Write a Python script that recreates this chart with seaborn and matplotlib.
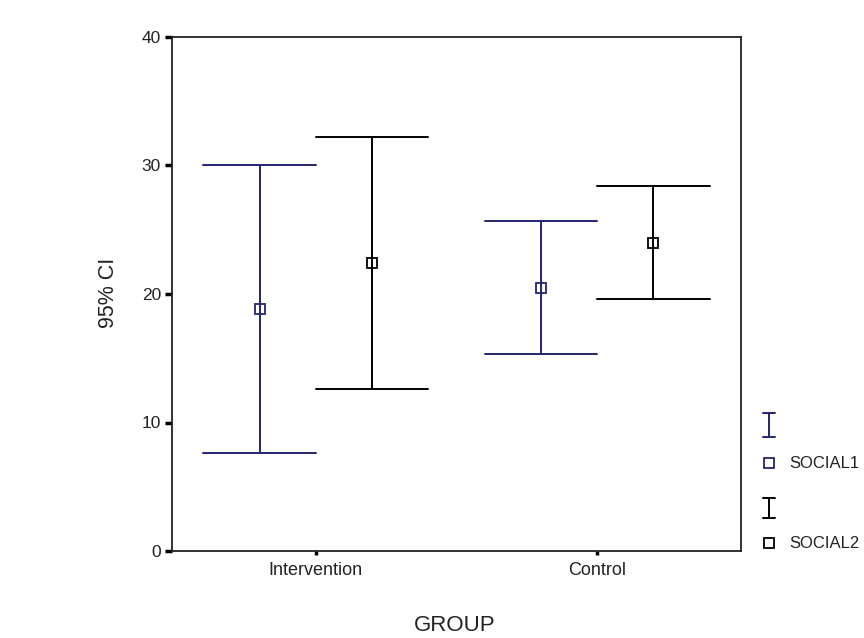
import pandas as pd
import seaborn as sns
import matplotlib.pyplot as plt
from matplotlib.lines import Line2D

# values (95% CI per group)
groups = ["Intervention", "Control"]
series = ["SOCIAL1", "SOCIAL2"]
social1_mean = [18.8, 20.5]
social1_low = [7.6, 15.3]
social1_high = [30.0, 25.7]
social2_mean = [22.4, 24.0]
social2_low = [12.6, 19.6]
social2_high = [32.2, 28.4]
y_ticks = [0, 10, 20, 30, 40]

colors = {"SOCIAL1": "#25256e", "SOCIAL2": "black"}

# long table: low / mean / high per cell -> median gives the mean, full range gives the CI
rows = []
for s, lo, mid, hi in [("SOCIAL1", social1_low, social1_mean, social1_high),
                       ("SOCIAL2", social2_low, social2_mean, social2_high)]:
    for g, a, b, c in zip(groups, lo, mid, hi):
        for v in (a, b, c):
            rows.append({"GROUP": g, "series": s, "value": v})
df = pd.DataFrame(rows)

sns.set_theme(style="white")
plt.rcParams['font.family'] = ['Liberation Sans', 'DejaVu Sans']

fig = plt.figure(figsize=(8.64, 6.38), dpi=100)
ax = fig.add_axes([172 / 864, 1 - 551 / 638, (741 - 172) / 864, (551 - 37) / 638])

sns.pointplot(data=df, x="GROUP", y="value", hue="series", order=groups,
              hue_order=series, palette=colors, estimator="median",
              errorbar=("pi", 100), dodge=0.4, capsize=0.4,
              markers="s", linestyle="none", markersize=7.5,
              markerfacecolor="white", markeredgewidth=1.3,
              err_kws={"linewidth": 1.4}, legend=False, ax=ax)

ax.set_xlim(-0.512, 1.512)
ax.set_ylim(0, 40)
ax.set_yticks(y_ticks)
ax.set_yticklabels([str(t) for t in y_ticks])

for sp in ax.spines.values():
    sp.set_visible(True)
    sp.set_color("#222222")
    sp.set_linewidth(1.3)

ax.tick_params(axis="y", direction="out", length=5, width=2.5, color="black",
               labelsize=12.5, pad=3, left=True, labelcolor="#222222")
ax.tick_params(axis="x", direction="out", length=3, width=2.5, color="black",
               labelsize=13, pad=5, bottom=True, labelcolor="#222222")

ax.set_xlabel("")
ax.set_ylabel("")
fig.text(455 / 864, 1 - 631 / 638, "GROUP", ha="center", va="baseline", fontsize=16, color="#222222")
fig.text(109 / 864, 1 - 293 / 638, "95% CI", ha="center", va="center", rotation=90,
         fontsize=15.5, color="#222222")

# manual legend outside the axes (SPSS style)
def px(x, y):
    return x / 864, 1 - y / 638

for s, y_bar, y_sq in [("SOCIAL1", (413, 437), 463), ("SOCIAL2", (498, 518), 543)]:
    c = colors[s]
    x0, y0 = px(769, y_bar[0])
    _, y1 = px(769, y_bar[1])
    xl, _ = px(763, 0)
    xr, _ = px(775, 0)
    for xs, ys in [([x0, x0], [y0, y1]), ([xl, xr], [y0, y0]), ([xl, xr], [y1, y1])]:
        fig.add_artist(Line2D(xs, ys, color=c, linewidth=1.4, transform=fig.transFigure))
    sx, sy = px(769, y_sq)
    fig.add_artist(Line2D([sx], [sy], marker="s", markersize=7.5, markerfacecolor="white",
                          markeredgecolor=c, markeredgewidth=1.3, linestyle="none",
                          transform=fig.transFigure))
    tx, ty = px(789, y_sq)
    fig.text(tx, ty, s, ha="left", va="center", fontsize=12, color="#222222")

fig.savefig("out.png", dpi=100)
